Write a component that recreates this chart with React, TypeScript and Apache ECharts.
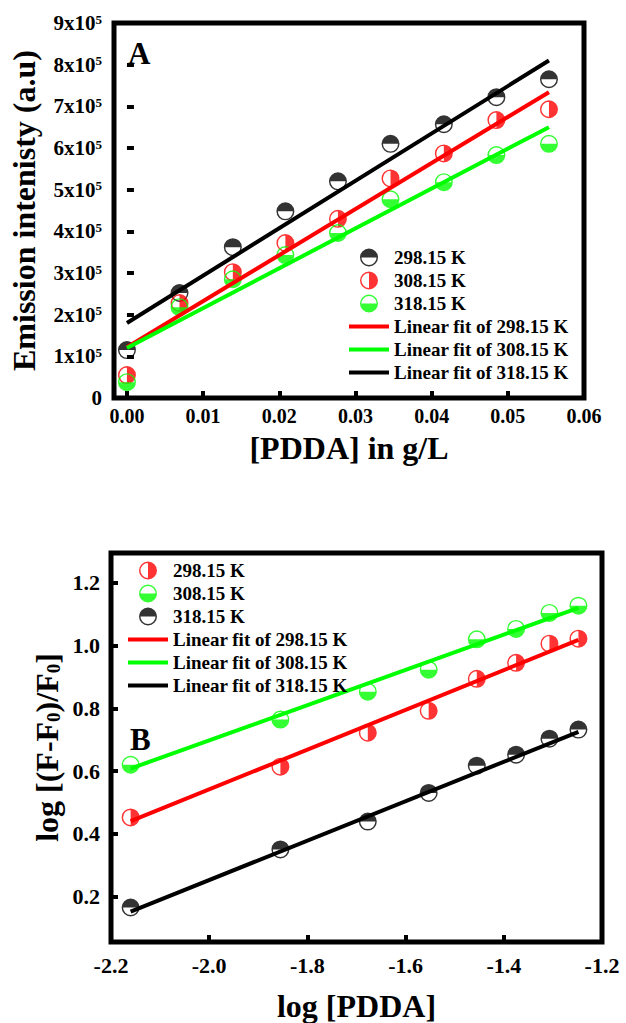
import React, { useEffect, useRef } from "react";
import * as echarts from "echarts";

// ---------- Panel A data ----------
const topX = [0, 0.0069, 0.0139, 0.0208, 0.0277, 0.0346, 0.0416, 0.0485, 0.0554];
const top298 = [1.15e5, 2.52e5, 3.62e5, 4.48e5, 5.2e5, 6.1e5, 6.57e5, 7.22e5, 7.65e5];
const top308 = [0.55e5, 2.28e5, 3.02e5, 3.72e5, 4.3e5, 5.27e5, 5.87e5, 6.67e5, 6.93e5];
const top318 = [0.38e5, 2.18e5, 2.85e5, 3.43e5, 3.96e5, 4.77e5, 5.18e5, 5.83e5, 6.1e5];
const topFitX = [0, 0.0554];
const topFit298 = [1.22e5, 7.34e5];
const topFit308 = [1.2e5, 6.5e5];
const topFit318 = [1.8e5, 8.1e5];

// ---------- Panel B data ----------
const botX = [-2.16, -1.855, -1.677, -1.553, -1.455, -1.375, -1.307, -1.248];
const bot298 = [0.452, 0.614, 0.722, 0.792, 0.894, 0.945, 1.006, 1.022];
const bot308 = [0.62, 0.764, 0.853, 0.923, 1.02, 1.053, 1.104, 1.127];
const bot318 = [0.165, 0.35, 0.439, 0.53, 0.617, 0.652, 0.703, 0.732];
const botFitX = [-2.16, -1.248];
const botFit298 = [0.44, 1.018];
const botFit308 = [0.608, 1.12];
const botFit318 = [0.152, 0.725];

const FONT = "Liberation Serif, Times New Roman, serif";
const RED = "#ff0000";
const GREEN = "#00ff00";
const BLACK = "#000000";

const RING =
  "M0,10A10,10 0 1,1 20,10A10,10 0 1,1 0,10Z M1.6,10A8.4,8.4 0 1,0 18.4,10A8.4,8.4 0 1,0 1.6,10Z";
const SYM_TOP = "path://" + RING + " M1,10A9,9 0 0,1 19,10Z";
const SYM_RIGHT = "path://" + RING + " M10,1A9,9 0 0,1 10,19Z";
const SYM_BOTTOM = "path://" + RING + " M19,10A9,9 0 0,1 1,10Z";
const LINE_ICON = "path://M0,0H40V4H0Z";

const zip = (xs: number[], ys: number[]) => xs.map((x, i) => [x, ys[i]]);

const scatter = (name: string, xs: number[], ys: number[], color: string, symbol: string, idx: number) => ({
  type: "scatter",
  name,
  xAxisIndex: idx,
  yAxisIndex: idx,
  data: zip(xs, ys),
  symbol,
  symbolKeepAspect: true,
  symbolSize: 18,
  itemStyle: { color, borderWidth: 0 },
  z: 2,
});

const fitLine = (name: string, xs: number[], ys: number[], color: string, idx: number) => ({
  type: "line",
  name,
  xAxisIndex: idx,
  yAxisIndex: idx,
  data: zip(xs, ys),
  symbol: "none",
  color,
  itemStyle: { color },
  lineStyle: { color, width: 4 },
  z: 3,
});

const richTick = (size: number) => ({
  fontFamily: FONT,
  fontWeight: "bold",
  fontSize: size,
  color: "#000",
  rich: {
    t: { fontFamily: FONT, fontWeight: "bold", fontSize: size, lineHeight: size, color: "#000" },
  },
});
// keep only labels that sit on a multiple of the step (hides the extra min/max ticks)
const onStep = (v: number, step: number) => Math.abs(v / step - Math.round(v / step)) < 1e-6;
const axisTick = { show: true, inside: true, length: 7, lineStyle: { color: "#000", width: 4 } };
const nameStyle = { fontFamily: FONT, fontWeight: "bold", fontSize: 32, color: "#000" };

export default function App() {
  const ref = useRef<HTMLDivElement>(null);
  useEffect(() => {
    if (!ref.current) return;
    const chart = echarts.init(ref.current, null, { renderer: "svg" });
    const option: any = {
      animation: false,
      backgroundColor: "#fff",
      textStyle: { fontFamily: FONT, fontWeight: "bold", color: "#000" },
      grid: [
        { left: 108, top: 23, width: 476, height: 375, show: true, borderColor: "#000", borderWidth: 5, backgroundColor: "transparent" },
        { left: 111, top: 553, width: 491, height: 389, show: true, borderColor: "#000", borderWidth: 5, backgroundColor: "transparent" },
      ],
      xAxis: [
        {
          type: "value",
          gridIndex: 0,
          min: -0.0017,
          max: 0.06,
          splitNumber: 6,
          axisLine: { show: false },
          axisTick,
          splitLine: { show: false },
          axisLabel: {
            ...richTick(20),
            margin: 8,
            showMinLabel: false,
            formatter: (v: number) => (v < -1e-6 || !onStep(v, 0.01) ? "" : `{t|${v.toFixed(2)}}`),
          },
          name: "[PDDA] in g/L",
          nameLocation: "middle",
          nameGap: 34,
          nameMoveOverlap: false,
          nameTextStyle: { ...nameStyle, verticalAlign: "top" },
        },
        {
          type: "value",
          gridIndex: 1,
          min: -2.2,
          max: -1.2,
          interval: 0.2,
          axisLine: { show: false },
          axisTick,
          splitLine: { show: false },
          axisLabel: { ...richTick(22), margin: 12, formatter: (v: number) => `{t|${v.toFixed(1)}}` },
          name: "log [PDDA]",
          nameLocation: "middle",
          nameGap: 48,
          nameMoveOverlap: false,
          nameTextStyle: { ...nameStyle, verticalAlign: "top" },
        },
      ],
      yAxis: [
        {
          type: "value",
          gridIndex: 0,
          min: 0,
          max: 9e5,
          interval: 1e5,
          axisLine: { show: false },
          axisTick,
          splitLine: { show: false },
          axisLabel: {
            fontFamily: FONT,
            fontWeight: "bold",
            fontSize: 21,
            color: "#000",
            margin: 12,
            formatter: (v: number) => (v === 0 ? "{b|0}" : `{b|${Math.round(v / 1e5)}x10}{s|5}`),
            rich: {
              b: { fontFamily: FONT, fontWeight: "bold", fontSize: 21, lineHeight: 21, verticalAlign: "bottom", color: "#000" },
              s: { fontFamily: FONT, fontWeight: "bold", fontSize: 13, lineHeight: 13, verticalAlign: "top", color: "#000" },
            },
          },
          name: "Emission intenisty (a.u)",
          nameLocation: "middle",
          nameGap: 74,
          nameMoveOverlap: false,
          nameTextStyle: nameStyle,
        },
        {
          type: "value",
          gridIndex: 1,
          min: 0.055,
          max: 1.295,
          splitNumber: 6,
          axisLine: { show: false },
          axisTick,
          splitLine: { show: false },
          axisLabel: {
            ...richTick(22),
            margin: 11,
            showMinLabel: false,
            showMaxLabel: false,
            formatter: (v: number) => (onStep(v, 0.2) ? `{t|${v.toFixed(1)}}` : ""),
          },
          name: "{m|log [(F-F}{s|0}{m|)/F}{s|0}{m|]}",
          nameLocation: "middle",
          nameGap: 48,
          nameMoveOverlap: false,
          nameTextStyle: {
            ...nameStyle,
            rich: {
              m: { fontFamily: FONT, fontWeight: "bold", fontSize: 32, lineHeight: 32, verticalAlign: "top", color: "#000" },
              s: { fontFamily: FONT, fontWeight: "bold", fontSize: 19, lineHeight: 19, verticalAlign: "bottom", padding: [16, 0, 0, 0], color: "#000" },
            },
          },
        },
      ],
      legend: [
        {
          orient: "vertical",
          left: 349,
          top: 248,
          padding: 0,
          itemWidth: 40,
          itemHeight: 18,
          itemGap: 4,
          itemStyle: { borderWidth: 0 },
          textStyle: { fontFamily: FONT, fontWeight: "bold", fontSize: 19, color: "#000" },
          formatter: (n: string) => n.replace(/^A:/, ""),
          data: [
            { name: "A:298.15 K", icon: SYM_TOP },
            { name: "A:308.15 K", icon: SYM_RIGHT },
            { name: "A:318.15 K", icon: SYM_BOTTOM },
            { name: "A:Linear fit of 298.15 K", icon: LINE_ICON },
            { name: "A:Linear fit of 308.15 K", icon: LINE_ICON },
            { name: "A:Linear fit of 318.15 K", icon: LINE_ICON },
          ],
        },
        {
          orient: "vertical",
          left: 128,
          top: 561,
          padding: 0,
          itemWidth: 40,
          itemHeight: 18,
          itemGap: 4,
          itemStyle: { borderWidth: 0 },
          textStyle: { fontFamily: FONT, fontWeight: "bold", fontSize: 19, color: "#000" },
          formatter: (n: string) => n.replace(/^B:/, ""),
          data: [
            { name: "B:298.15 K", icon: SYM_RIGHT },
            { name: "B:308.15 K", icon: SYM_BOTTOM },
            { name: "B:318.15 K", icon: SYM_TOP },
            { name: "B:Linear fit of 298.15 K", icon: LINE_ICON },
            { name: "B:Linear fit of 308.15 K", icon: LINE_ICON },
            { name: "B:Linear fit of 318.15 K", icon: LINE_ICON },
          ],
        },
      ],
      graphic: [
        { type: "text", x: 128, y: 53, style: { text: "A", fontFamily: FONT, fontWeight: "bold", fontSize: 31, fill: "#000", verticalAlign: "middle" } },
        { type: "text", x: 130, y: 739, style: { text: "B", fontFamily: FONT, fontWeight: "bold", fontSize: 31, fill: "#000", verticalAlign: "middle" } },
      ],
      series: [
        scatter("A:298.15 K", topX, top298, BLACK, SYM_TOP, 0),
        scatter("A:308.15 K", topX, top308, RED, SYM_RIGHT, 0),
        scatter("A:318.15 K", topX, top318, GREEN, SYM_BOTTOM, 0),
        fitLine("A:Linear fit of 298.15 K", topFitX, topFit298, RED, 0),
        fitLine("A:Linear fit of 308.15 K", topFitX, topFit308, GREEN, 0),
        fitLine("A:Linear fit of 318.15 K", topFitX, topFit318, BLACK, 0),
        scatter("B:298.15 K", botX, bot298, RED, SYM_RIGHT, 1),
        scatter("B:308.15 K", botX, bot308, GREEN, SYM_BOTTOM, 1),
        scatter("B:318.15 K", botX, bot318, BLACK, SYM_TOP, 1),
        fitLine("B:Linear fit of 298.15 K", botFitX, botFit298, RED, 1),
        fitLine("B:Linear fit of 308.15 K", botFitX, botFit308, GREEN, 1),
        fitLine("B:Linear fit of 318.15 K", botFitX, botFit318, BLACK, 1),
      ],
    };
    chart.setOption(option);
    return () => chart.dispose();
  }, []);
  return <div ref={ref} style={{ position: "absolute", left: 0, top: 0, width: 626, height: 1023 }} />;
}
